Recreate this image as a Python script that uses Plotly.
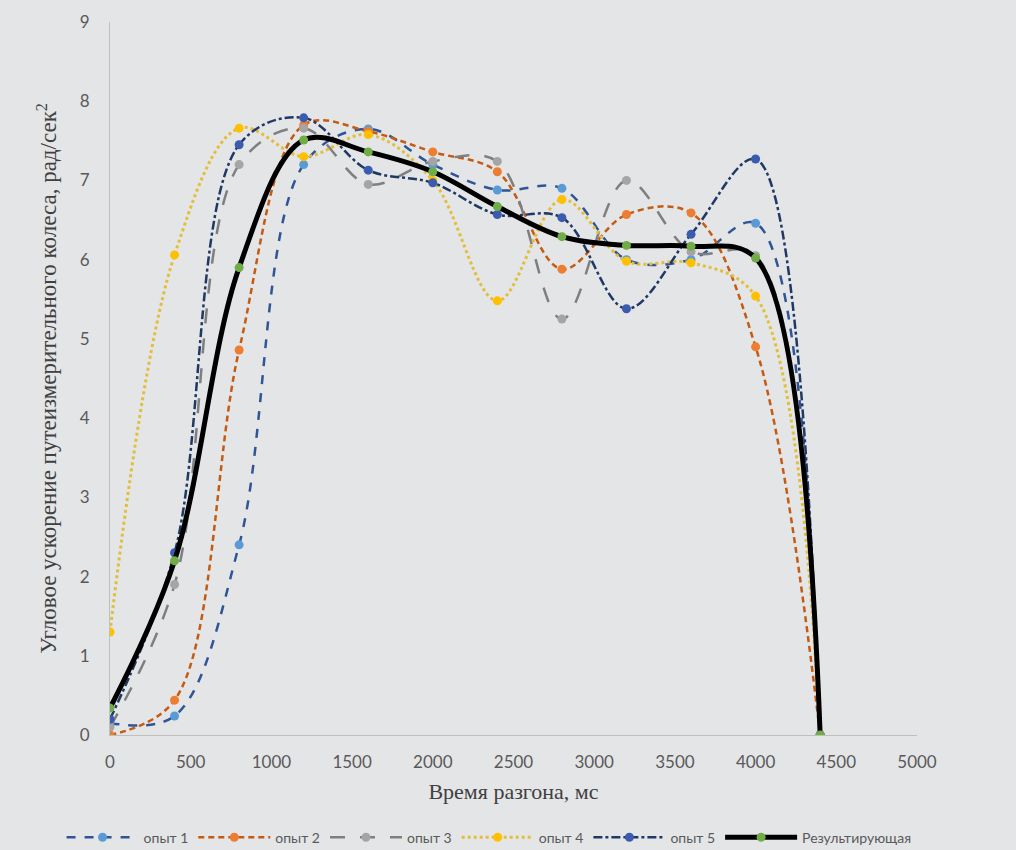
import plotly.graph_objects as go

time_ms = [0, 400, 800, 1200, 1600, 2000, 2400, 2800, 3200, 3600, 4000, 4400]

opyt1 = [0.15, 0.24, 2.4, 7.2, 7.65, 7.2, 6.88, 6.9, 6.0, 6.0, 6.46, 0.0]
opyt2 = [0.0, 0.44, 4.86, 7.7, 7.62, 7.36, 7.11, 5.88, 6.57, 6.59, 4.9, 0.0]
opyt3 = [0.1, 1.9, 7.2, 7.66, 6.95, 7.24, 7.24, 5.25, 7.0, 6.1, 6.05, 0.0]
opyt4 = [1.3, 6.06, 7.66, 7.3, 7.58, 7.0, 5.48, 6.76, 5.98, 5.96, 5.54, 0.0]
opyt5 = [0.2, 2.3, 7.45, 7.79, 7.13, 6.97, 6.57, 6.53, 5.38, 6.32, 7.27, 0.0]
result = [0.34, 2.2, 5.9, 7.51, 7.36, 7.11, 6.67, 6.29, 6.18, 6.17, 6.02, 0.0]

names = ["опыт 1", "опыт 2", "опыт 3", "опыт 4", "опыт 5", "Результирующая"]
series = [opyt1, opyt2, opyt3, opyt4, opyt5, result]
line_colors = ["#2F5597", "#C55A11", "#7F7F7F", "#E3BE3A", "#1F3864", "#000000"]
marker_colors = ["#5B9BD5", "#ED7D31", "#A5A5A5", "#FFC000", "#3A5BAE", "#70AD47"]
dashes = ["dash", "6px,4px", "longdash", "dot", "dashdot", "solid"]
widths = [2.5, 2.5, 2.5, 3, 2.5, 5]

bg = "#E4E5E7"

fig = go.Figure()
for name, ys, lc, mc, dsh, w in zip(names, series, line_colors, marker_colors, dashes, widths):
    fig.add_trace(go.Scatter(
        x=time_ms, y=ys, name=name, mode="lines+markers",
        line=dict(color=lc, width=w, dash=dsh, shape="spline", smoothing=1.0),
        marker=dict(color=mc, size=9, symbol="circle"),
    ))

fig.update_layout(
    width=1016, height=850,
    paper_bgcolor=bg, plot_bgcolor=bg,
    margin=dict(l=110, r=99, t=22, b=115, autoexpand=False),
    showlegend=True,
    legend=dict(orientation="h", x=-0.06, xanchor="left", y=-0.144, yanchor="middle",
                font=dict(family="Lato, Open Sans, sans-serif", size=14, color="#595959"),
                bgcolor="rgba(0,0,0,0)", itemwidth=72),
    font=dict(family="Lato, Open Sans, sans-serif", color="#595959"),
)
fig.update_xaxes(
    range=[0, 5000], tickvals=[0, 500, 1000, 1500, 2000, 2500, 3000, 3500, 4000, 4500, 5000],
    showgrid=False, zeroline=False, showline=True, linecolor="#BFBFBF", linewidth=1,
    ticks="", ticklabelstandoff=12, tickfont=dict(size=17, color="#595959"), automargin=False,
    title=dict(text="Время разгона, мс", font=dict(family="Liberation Serif, serif", size=22, color="#404040"), standoff=12),
)
fig.update_yaxes(
    range=[0, 9], dtick=1,
    showgrid=False, zeroline=False, showline=True, linecolor="#BFBFBF", linewidth=1,
    ticks="", ticklabelstandoff=16, tickfont=dict(size=17, color="#595959"), automargin=False,
    title=dict(text="Угловое ускорение путеизмерительного колеса, рад/сек<sup>2</sup>",
               font=dict(family="Liberation Serif, serif", size=23, color="#404040"), standoff=16),
)

fig.write_html("out.html")
